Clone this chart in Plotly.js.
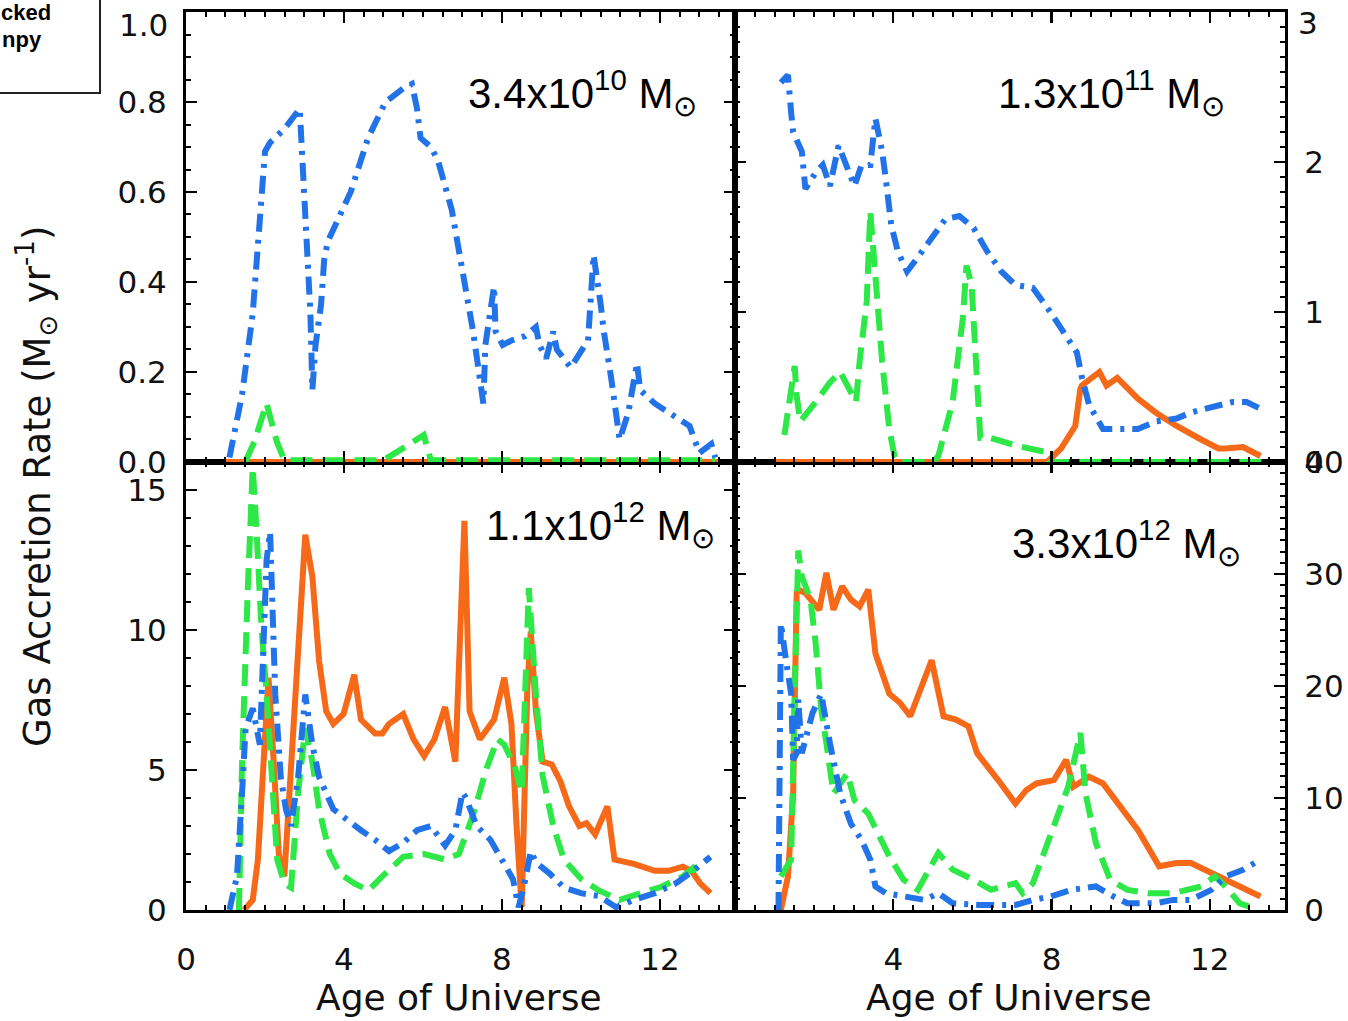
<!DOCTYPE html>
<html>
<head>
<meta charset="utf-8">
<script src="https://cdn.plot.ly/plotly-3.0.1.min.js"></script>
<style>html,body{margin:0;padding:0;background:#fff;}#chart{width:1348px;height:1021px;}</style>
</head>
<body>
<div id="chart"></div>
<script>
// ---------- DATA ----------
// Panel 1: 3.4x10^10 Msun (top-left)
var p1BlueX  = [1.1,1.42,1.69,1.9,2.0,2.13,2.49,2.88,2.93,3.06,3.15,3.2,3.28,3.42,3.5,3.59,4.17,4.61,5.05,5.5,5.72,5.85,5.94,6.2,6.38,6.73,6.91,7.09,7.27,7.4,7.53,7.58,7.8,7.84,8.02,8.24,8.59,8.86,8.95,9.12,9.3,9.39,9.74,10.18,10.32,10.5,10.58,10.76,10.98,11.2,11.42,11.5,11.87,12.4,12.75,13.0,13.3,13.4];
var p1BlueY  = [0.01,0.15,0.33,0.56,0.69,0.71,0.74,0.785,0.70,0.48,0.33,0.16,0.26,0.35,0.45,0.49,0.60,0.72,0.80,0.83,0.84,0.785,0.72,0.70,0.67,0.56,0.47,0.39,0.29,0.21,0.13,0.26,0.39,0.29,0.26,0.27,0.28,0.30,0.26,0.23,0.29,0.25,0.21,0.27,0.46,0.35,0.29,0.19,0.05,0.11,0.22,0.16,0.13,0.10,0.08,0.02,0.04,0.01];
var p1GreenX = [1.5,1.73,2.04,2.3,2.49,3.0,4.0,5.0,5.67,6.02,6.2,7.0,8.0,9.0,10.0,11.0,12.0,13.0,13.4];
var p1GreenY = [0.0,0.045,0.13,0.045,0.004,0.004,0.004,0.004,0.04,0.06,0.004,0.004,0.004,0.004,0.004,0.004,0.004,0.004,0.004];
var p1OrangeX = [1.0,4.0,8.0,12.0,13.5];
var p1OrangeY = [0,0,0,0,0];

// Panel 2: 1.3x10^11 Msun (top-right)
var p2BlueX  = [1.16,1.34,1.42,1.47,1.69,1.78,2.04,2.22,2.4,2.62,2.84,3.02,3.2,3.42,3.55,3.72,3.81,3.95,4.12,4.35,4.61,4.96,5.32,5.67,6.03,6.38,6.73,7.09,7.53,7.97,8.42,8.64,8.77,8.95,9.3,9.74,10.18,10.63,11.16,11.52,12.04,12.57,12.93,13.24];
var p2BlueY  = [2.53,2.58,2.33,2.2,2.07,1.82,1.93,1.98,1.84,2.11,1.96,1.84,1.98,1.98,2.29,2.07,1.89,1.58,1.4,1.27,1.36,1.49,1.62,1.64,1.56,1.4,1.27,1.18,1.16,1.0,0.82,0.73,0.56,0.38,0.22,0.22,0.22,0.27,0.29,0.33,0.36,0.40,0.40,0.36];
var p2GreenX = [1.25,1.38,1.51,1.56,1.65,2.04,2.4,2.66,2.88,3.06,3.15,3.33,3.42,3.55,3.72,3.9,4.03,4.1,5.0,5.14,5.5,5.76,5.85,5.98,6.12,6.2,6.47,7.09,7.8,7.95,9.0,11.0,13.4];
var p2GreenY = [0.18,0.40,0.64,0.44,0.27,0.40,0.53,0.60,0.49,0.40,0.67,1.07,1.67,1.22,0.67,0.22,0.04,0.0,0.0,0.04,0.40,0.96,1.31,1.18,0.51,0.16,0.16,0.11,0.07,0.0,0.0,0.0,0.0];
var p2OrangeX = [1.0,4.0,7.89,8.24,8.6,8.73,8.77,9.21,9.39,9.66,10.19,10.63,11.16,11.78,12.22,12.4,12.84,13.28];
var p2OrangeY = [0,0,0,0.09,0.24,0.49,0.51,0.60,0.51,0.56,0.42,0.33,0.24,0.15,0.09,0.09,0.10,0.04];

// Panel 3: 1.1x10^12 Msun (bottom-left)
var p3BlueX  = [1.1,1.29,1.42,1.51,1.69,1.87,2.04,2.13,2.26,2.4,2.53,2.66,2.84,3.02,3.2,3.37,3.73,4.08,4.43,4.79,5.14,5.5,5.85,6.2,6.56,6.82,7.0,7.09,7.36,7.71,8.06,8.28,8.42,8.55,8.73,8.86,9.21,9.57,10.0,10.45,10.89,11.34,11.87,12.4,12.84,13.28];
var p3BlueY  = [0,1.2,4.2,6.5,7.2,5.9,12.5,13.5,7.7,4.75,3.6,3.0,4.75,7.7,5.9,4.75,3.6,3.2,2.85,2.5,2.1,2.4,2.85,3.0,2.3,2.85,4.2,4.0,3.0,2.5,1.7,1.1,0.1,0.8,2.1,1.7,1.3,0.8,0.6,0.5,0.1,0.36,0.6,0.95,1.4,1.9];
var p3GreenX = [1.34,1.42,1.56,1.69,1.78,1.91,2.04,2.18,2.31,2.49,2.66,2.84,3.02,3.2,3.37,3.64,3.9,4.26,4.62,4.97,5.5,6.03,6.56,6.91,7.27,7.62,7.89,8.06,8.33,8.5,8.6,8.68,8.86,9.03,9.3,9.57,10.01,10.45,10.98,11.52,12.04,12.58,12.84,12.93];
var p3GreenY = [0,5.3,11.3,15.8,13.7,10.1,7.7,4.2,1.8,0.95,0.8,4.2,6.5,5.3,3.6,2.0,1.3,0.95,0.7,1.2,1.9,2.0,1.8,2.0,3.4,5.1,6.1,5.9,5.1,4.2,8.9,11.5,7.7,4.8,3.0,1.8,1.1,0.7,0.36,0.6,0.83,1.2,1.5,1.3];
var p3OrangeX = [1.47,1.69,1.82,1.96,2.09,2.22,2.35,2.49,2.62,2.8,3.02,3.2,3.37,3.55,3.73,3.99,4.26,4.43,4.79,4.97,5.14,5.5,5.76,6.03,6.29,6.56,6.82,7.05,7.18,7.44,7.8,8.06,8.24,8.37,8.5,8.64,8.73,8.86,9.03,9.26,9.48,9.7,9.96,10.14,10.36,10.67,10.85,11.34,11.87,12.22,12.58,12.8,13.02,13.28];
var p3OrangeY = [0,0.36,1.8,5.3,8.3,5.3,2.0,1.2,4.2,8.9,13.4,11.9,8.9,7.1,6.65,7.0,8.4,6.8,6.3,6.3,6.65,7.0,6.1,5.5,6.1,7.25,5.3,13.9,7.1,6.1,6.8,8.3,6.65,3.0,0.1,7.8,9.95,7.1,5.3,5.2,4.6,3.7,3.0,3.1,2.7,3.7,1.8,1.65,1.4,1.4,1.55,1.4,0.95,0.6];

// Panel 4: 3.3x10^12 Msun (bottom-right)
var p4BlueX  = [1.1,1.16,1.29,1.42,1.47,1.56,1.6,1.69,1.96,2.18,2.4,2.66,2.93,3.2,3.42,3.55,3.81,4.26,4.79,5.14,5.5,6.2,7.09,7.53,7.97,8.5,9.12,9.57,9.92,10.63,11.07,11.52,12.04,12.4,12.84,13.28];
var p4BlueY  = [0,25.6,22.3,19.3,13.4,14.0,18.8,14.0,17.6,19.3,14.9,10.4,7.7,6.25,4.5,2.1,1.5,1.2,0.9,1.5,0.6,0.45,0.45,0.9,1.2,1.8,2.1,1.2,0.6,0.6,0.9,0.9,1.8,3.0,3.6,4.5];
var p4GreenX = [1.16,1.42,1.51,1.6,1.69,1.91,2.04,2.18,2.31,2.49,2.84,3.02,3.37,3.55,3.9,4.26,4.62,5.14,5.5,6.03,6.47,7.09,7.27,7.53,7.97,8.42,8.73,8.86,9.12,9.48,9.92,10.45,11.07,11.78,12.13,12.4,12.75,13.0];
var p4GreenY = [3.0,4.5,19.3,32.1,29.8,27.7,23.8,17.9,14.9,10.4,12.2,9.8,8.6,7.4,4.8,2.7,1.8,5.1,3.6,2.7,1.8,2.4,1.5,2.4,6.8,11.0,15.8,10.4,6.0,2.7,1.8,1.5,1.5,2.1,3.0,2.1,0.6,0.3];
var p4OrangeX = [1.16,1.34,1.47,1.56,1.6,1.78,2.13,2.31,2.49,2.71,2.93,3.15,3.37,3.55,3.9,4.17,4.43,4.97,5.27,5.58,5.9,6.12,6.65,7.09,7.36,7.62,8.06,8.37,8.55,8.95,9.3,9.74,10.19,10.72,11.16,11.52,12.04,12.58,12.93,13.28];
var p4OrangeY = [0,3.0,10.4,28.3,28.6,28.3,26.8,30.1,26.8,28.9,27.7,27.1,28.6,22.9,19.3,18.5,17.3,22.3,17.3,17.0,16.4,14.0,11.6,9.5,10.7,11.3,11.6,13.4,11.0,11.9,11.3,9.2,7.1,3.9,4.2,4.2,3.3,2.4,1.8,1.2];

var massLabels = ["3.4x10<sup>10</sup> M<sub>⊙</sub>","1.3x10<sup>11</sup> M<sub>⊙</sub>","1.1x10<sup>12</sup> M<sub>⊙</sub>","3.3x10<sup>12</sup> M<sub>⊙</sub>"];
var xTickVals = [0,4,8,12];
var xTickTextLeft = ["0","4","8","12"];
var xTickTextRight = ["","4","8","12"];
var yTickValsTL = [0,0.2,0.4,0.6,0.8,1.0];
var yTickTextTL = ["0.0","0.2","0.4","0.6","0.8",""];
var yTickValsTR = [0,1,2,3];
var yTickTextTR = ["0","1","2",""];
var topTickLabels = ["1.0","3"];
var legendFragments = ["cked","npy"];
var yTitle = "Gas Accretion Rate (M<sub>⊙</sub> yr<sup>-1</sup>)";
var xTitle = "Age of Universe";

// ---------- STYLE ----------
var BLUE = "rgb(35,115,232)", GREEN = "rgb(45,232,70)", ORANGE = "rgb(245,105,25)";
var LW = 6;
var blueDash = "18px,8px,4px,8px", greenDash = "22px,10px";

function tr(x, y, xa, ya, color, dash){
  return {x:x, y:y, xaxis:xa, yaxis:ya, type:"scatter", mode:"lines",
          line:{color:color, width:LW, dash:dash}, hoverinfo:"skip", showlegend:false};
}
var panels = [
  {xa:"x3", ya:"y3", b:[p1BlueX,p1BlueY], g:[p1GreenX,p1GreenY], o:[p1OrangeX,p1OrangeY]},
  {xa:"x4", ya:"y4", b:[p2BlueX,p2BlueY], g:[p2GreenX,p2GreenY], o:[p2OrangeX,p2OrangeY]},
  {xa:"x",  ya:"y",  b:[p3BlueX,p3BlueY], g:[p3GreenX,p3GreenY], o:[p3OrangeX,p3OrangeY]},
  {xa:"x2", ya:"y2", b:[p4BlueX,p4BlueY], g:[p4GreenX,p4GreenY], o:[p4OrangeX,p4OrangeY]}
];
var data = [];
panels.forEach(function(p){
  data.push(tr(p.o[0], p.o[1], p.xa, p.ya, ORANGE, "solid"));
  data.push(tr(p.g[0], p.g[1], p.xa, p.ya, GREEN, greenDash));
  data.push(tr(p.b[0], p.b[1], p.xa, p.ya, BLUE, blueDash));
});

var TICKFONT = {family:"DejaVu Sans", size:31, color:"#111"};
var XMID = 0.4995, YMID = 0.4989, XMAX = 13.9;
function xax(domain, anchor, showLabels, ttext){
  return {domain:domain, anchor:anchor, range:[0,XMAX], tickmode:"array", tickvals:xTickVals, ticktext:ttext,
    showticklabels:showLabels, ticks:"inside", ticklen:11, tickwidth:2.5, tickcolor:"#000",
    showline:true, linecolor:"#000", linewidth:3, mirror:"allticks", showgrid:false, zeroline:false,
    tickfont:TICKFONT, ticklabelstandoff:20, ticklabeloverflow:"allow",
    minor:{dtick:0.5, tick0:0, ticks:"inside", ticklen:5, tickwidth:2, tickcolor:"#000", showgrid:false}};
}
function yax(domain, anchor, side, range, tvals, ttext, minor){
  return {domain:domain, anchor:anchor, side:side, range:range, tickmode:"array", tickvals:tvals, ticktext:ttext,
    ticks:"inside", ticklen:11, tickwidth:2.5, tickcolor:"#000",
    showline:true, linecolor:"#000", linewidth:3, mirror:"allticks", showgrid:false, zeroline:false,
    tickfont:TICKFONT, ticklabelstandoff:10, ticklabeloverflow:"allow",
    minor:{dtick:minor, tick0:0, ticks:"inside", ticklen:5, tickwidth:2, tickcolor:"#000", showgrid:false}};
}

var annFont = {family:"Liberation Sans, Arial, sans-serif", size:42, color:"#000"};
function massAnn(text, x, y){
  return {text:text, xref:"paper", yref:"paper", x:x, y:y, xanchor:"left", yanchor:"middle",
          showarrow:false, font:annFont};
}
function px2x(px){ return (px-186)/1099; }
function py2y(py){ return (910-py)/898; }

var layout = {
  width:1348, height:1021,
  margin:{l:186, r:63, t:12, b:111},
  paper_bgcolor:"#fff", plot_bgcolor:"#fff",
  showlegend:false,
  xaxis: xax([0,XMID],"y",true,xTickTextLeft),
  xaxis2: xax([XMID,1],"y2",true,xTickTextRight),
  xaxis3: xax([0,XMID],"y3",false,xTickTextLeft),
  xaxis4: xax([XMID,1],"y4",false,xTickTextRight),
  yaxis: yax([0,YMID],"x","left",[0,16],[0,5,10,15],["0","5","10","15"],1),
  yaxis2: yax([0,YMID],"x2","right",[0,40],[0,10,20,30,40],["0","10","20","30","40"],1),
  yaxis3: yax([YMID,1],"x3","left",[0,1],yTickValsTL,yTickTextTL,0.05),
  yaxis4: yax([YMID,1],"x4","right",[0,3],yTickValsTR,yTickTextTR,0.1),
  annotations:[
    massAnn(massLabels[0], px2x(466), py2y(93)),
    massAnn(massLabels[1], px2x(996), py2y(93)),
    massAnn(massLabels[2], px2x(484), py2y(524)),
    massAnn(massLabels[3], px2x(1010), py2y(542)),
    {text:topTickLabels[0], xref:"paper", yref:"paper", x:px2x(170), y:py2y(25), xanchor:"right", yanchor:"middle",
     showarrow:false, font:TICKFONT},
    {text:topTickLabels[1], xref:"paper", yref:"paper", x:px2x(1296), y:py2y(23), xanchor:"left", yanchor:"middle",
     showarrow:false, font:TICKFONT},
    {text:yTitle, xref:"paper", yref:"paper", x:px2x(37), y:py2y(486), xanchor:"center", yanchor:"middle",
     textangle:-90, showarrow:false, font:{family:"DejaVu Sans", size:37, color:"#111"}},
    {text:xTitle, xref:"paper", yref:"paper", x:px2x(459), y:py2y(997), xanchor:"center", yanchor:"middle",
     showarrow:false, font:{family:"DejaVu Sans", size:36, color:"#111"}},
    {text:xTitle, xref:"paper", yref:"paper", x:px2x(1009), y:py2y(997), xanchor:"center", yanchor:"middle",
     showarrow:false, font:{family:"DejaVu Sans", size:36, color:"#111"}},
    {text:"<b>"+legendFragments[0]+"</b>", xref:"paper", yref:"paper", x:px2x(-1), y:py2y(12), xanchor:"left", yanchor:"middle",
     showarrow:false, font:{family:"Liberation Sans, Arial, sans-serif", size:22, color:"#000"}},
    {text:"<b>"+legendFragments[1]+"</b>", xref:"paper", yref:"paper", x:px2x(0), y:py2y(39), xanchor:"left", yanchor:"middle",
     showarrow:false, font:{family:"Liberation Sans, Arial, sans-serif", size:22, color:"#000"}}
  ],
  shapes:[
    {type:"rect", xref:"paper", yref:"paper", x0:px2x(-20), x1:px2x(100), y0:py2y(93), y1:py2y(-20),
     line:{color:"#222", width:2}, fillcolor:"rgba(0,0,0,0)", layer:"above"}
  ]
};

Plotly.newPlot("chart", data, layout, {staticPlot:true, displayModeBar:false});
</script>
</body>
</html>
